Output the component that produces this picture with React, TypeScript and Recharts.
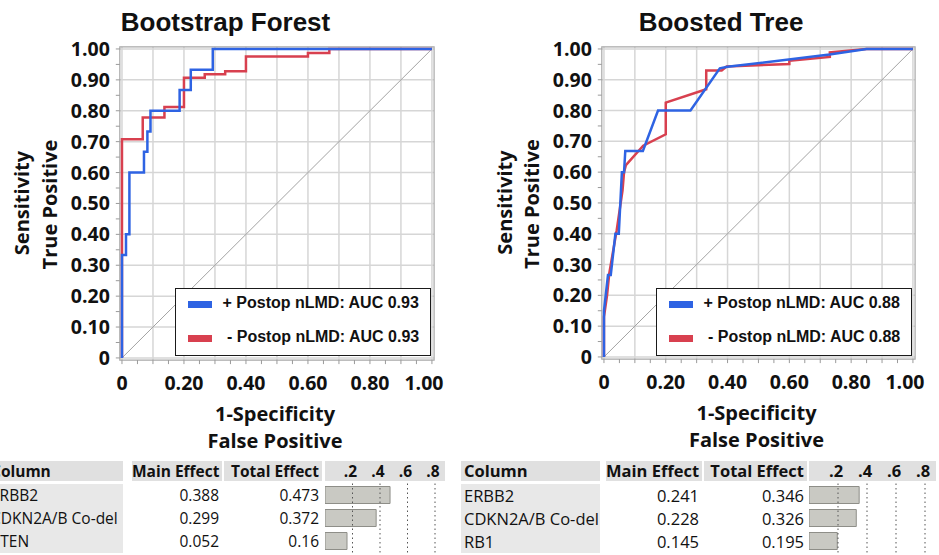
import React from "react";
import {
  Bar,
  BarChart,
  CartesianGrid,
  Legend,
  Line,
  LineChart,
  ReferenceArea,
  ReferenceLine,
  XAxis,
  YAxis,
} from "recharts";

const BLUE = "#2e63e3";
const RED = "#d8404f";
const SANS = "'Open Sans', sans-serif";
const ARIAL = "'Liberation Sans', Arial, sans-serif";

// ROC axes: ticks every 0.05, grid every 0.1, labels on x every 0.2
const rocTicks = [
  0, 0.05, 0.1, 0.15, 0.2, 0.25, 0.3, 0.35, 0.4, 0.45, 0.5, 0.55, 0.6, 0.65,
  0.7, 0.75, 0.8, 0.85, 0.9, 0.95, 1,
];
const rocGrid = [0, 0.1, 0.2, 0.3, 0.4, 0.5, 0.6, 0.7, 0.8, 0.9, 1];
const DOMAIN: [number, number] = [-0.007, 1.007];

// Bootstrap Forest curves
const forestPosFpr = [0, 0, 0.013, 0.013, 0.024, 0.024, 0.071, 0.071, 0.082, 0.082, 0.092, 0.092, 0.186, 0.186, 0.222, 0.222, 0.293, 0.293, 1];
const forestPosTpr = [0, 0.333, 0.333, 0.4, 0.4, 0.6, 0.6, 0.667, 0.667, 0.733, 0.733, 0.8, 0.8, 0.867, 0.867, 0.933, 0.933, 1, 1];
const forestNegFpr = [0, 0, 0.067, 0.067, 0.137, 0.137, 0.2, 0.2, 0.267, 0.267, 0.333, 0.333, 0.4, 0.4, 0.6, 0.6, 0.669, 0.669, 1];
const forestNegTpr = [0, 0.708, 0.708, 0.778, 0.778, 0.812, 0.812, 0.907, 0.907, 0.918, 0.918, 0.928, 0.928, 0.976, 0.976, 0.987, 0.987, 1, 1];

// Boosted Tree curves
const boostedPosFpr = [0, 0, 0.013, 0.022, 0.037, 0.048, 0.058, 0.065, 0.069, 0.126, 0.175, 0.28, 0.375, 0.4, 0.73, 0.85, 1];
const boostedPosTpr = [0, 0.15, 0.266, 0.266, 0.4, 0.4, 0.6, 0.6, 0.669, 0.669, 0.8, 0.8, 0.937, 0.942, 0.982, 1, 1];
const boostedNegFpr = [0, 0, 0.01, 0.017, 0.041, 0.06, 0.065, 0.071, 0.127, 0.2, 0.2, 0.331, 0.331, 0.381, 0.397, 0.6, 0.6, 0.731, 0.731, 0.85, 1];
const boostedNegTpr = [0, 0.13, 0.2, 0.27, 0.41, 0.54, 0.6, 0.623, 0.686, 0.723, 0.826, 0.869, 0.93, 0.93, 0.943, 0.951, 0.962, 0.974, 0.989, 1, 1];

// Effect tables
const forestNames = ["ERBB2", "CDKN2A/B Co-del", "PTEN"];
const forestMain = [0.388, 0.299, 0.052];
const forestTotal = [0.473, 0.372, 0.16];
const boostedNames = ["ERBB2", "CDKN2A/B Co-del", "RB1"];
const boostedMain = [0.241, 0.228, 0.145];
const boostedTotal = [0.346, 0.326, 0.195];
const effectTicks = [0.2, 0.4, 0.6, 0.8];

const toPoints = (xs: number[], ys: number[]) => xs.map((x, i) => ({ x, y: ys[i] }));

const TS = 6;
const TM = 4;

function XTick(props: any) {
  const { x, y, payload, isLast } = props;
  const v = payload.value as number;
  const axisY = y - TS - TM;
  const labeled = Math.round(v * 100) % 20 === 0;
  return (
    <g>
      <line x1={x} x2={x} y1={axisY} y2={axisY + 4} stroke="#9a9a9a" />
      {labeled && (
        <text
          x={v === 1 ? x - 8 : x}
          y={axisY + 30}
          textAnchor="middle"
          fontFamily={SANS}
          fontWeight="bold"
          fontSize={19.5}
          fill="#111"
        >
          {v === 0 ? "0" : v.toFixed(2)}
        </text>
      )}
    </g>
  );
}

function YTick(props: any) {
  const { x, y, payload } = props;
  const v = payload.value as number;
  const axisX = x + TS + TM;
  const labeled = Math.round(v * 100) % 10 === 0;
  return (
    <g>
      <line x1={axisX - 4} x2={axisX} y1={y} y2={y} stroke="#9a9a9a" />
      {labeled && (
        <text
          x={axisX - 10}
          y={y}
          dy="0.36em"
          textAnchor="end"
          fontFamily={SANS}
          fontWeight="bold"
          fontSize={19.5}
          fill="#111"
        >
          {v === 0 ? "0" : v.toFixed(2)}
        </text>
      )}
    </g>
  );
}

function RocLegend({ payload }: any) {
  const items = [...(payload ?? [])].reverse();
  return (
    <div
      style={{
        width: 256,
        height: 68,
        boxSizing: "border-box",
        border: "1.5px solid #1a1a1a",
        background: "#fff",
        position: "relative",
      }}
    >
      {items.map((it: any, i: number) => (
        <div key={i}>
          <div
            style={{
              position: "absolute",
              left: 12,
              top: 11.5 + i * 34,
              width: 24,
              height: 7.5,
              background: it.color,
            }}
          />
          <div
            style={{
              position: "absolute",
              left: 46.5,
              top: 4 + i * 34,
              fontFamily: ARIAL,
              fontWeight: "bold",
              fontSize: 16,
              lineHeight: "20px",
              whiteSpace: "pre",
              color: "#111",
            }}
          >
            {it.value}
          </div>
        </div>
      ))}
    </div>
  );
}

function RocPanel({
  left,
  width,
  yAxisWidth,
  marginRight,
  marginBottom,
  pos,
  neg,
  posName,
  negName,
  legendLeft,
}: {
  left: number;
  width: number;
  yAxisWidth: number;
  marginRight: number;
  marginBottom: number;
  pos: { x: number; y: number }[];
  neg: { x: number; y: number }[];
  posName: string;
  negName: string;
  legendLeft: number;
}) {
  return (
    <div style={{ position: "absolute", left, top: 0 }}>
      <LineChart
        width={width}
        height={460}
        margin={{ top: 46.8, right: marginRight, bottom: marginBottom, left: 0 }}
      >
        <CartesianGrid
          stroke="#d6d6d6"
          strokeWidth={1.5}
          horizontalValues={rocGrid}
          verticalValues={rocGrid}
        />
        <ReferenceArea
          x1={DOMAIN[0]}
          x2={DOMAIN[1]}
          y1={DOMAIN[0]}
          y2={DOMAIN[1]}
          fill="none"
          stroke="#a8a8a8"
          strokeWidth={1.2}
          ifOverflow="visible"
        />
        <XAxis
          type="number"
          dataKey="x"
          domain={DOMAIN}
          ticks={rocTicks}
          interval={0}
          tick={(p: any) => <XTick {...p} />}
          tickLine={false}
          axisLine={false}
          tickSize={TS}
          tickMargin={TM}
          height={30}
        />
        <YAxis
          type="number"
          domain={DOMAIN}
          ticks={rocTicks}
          interval={0}
          tick={(p: any) => <YTick {...p} />}
          tickLine={false}
          axisLine={false}
          tickSize={TS}
          tickMargin={TM}
          width={yAxisWidth}
        />
        <ReferenceLine
          segment={[
            { x: 0, y: 0 },
            { x: 1, y: 1 },
          ]}
          stroke="#a3a3a3"
          strokeWidth={1}
        />
        <Line
          data={neg}
          dataKey="y"
          name={" - Postop nLMD: AUC " + negName}
          type="linear"
          stroke={RED}
          strokeWidth={2.5}
          dot={false}
          isAnimationActive={false}
        />
        <Line
          data={pos}
          dataKey="y"
          name={"+ Postop nLMD: AUC " + posName}
          type="linear"
          stroke={BLUE}
          strokeWidth={2.5}
          dot={false}
          isAnimationActive={false}
        />
        <Legend
          layout="horizontal"
          verticalAlign="middle"
          align="center"
          content={(p: any) => <RocLegend {...p} />}
          wrapperStyle={{ left: legendLeft, top: 288, width: 256, height: 68 }}
        />
      </LineChart>
    </div>
  );
}

function BarHeaderTick(props: any) {
  const { x, y, payload, fontSize } = props;
  return (
    <text
      x={x - 2}
      y={y - 6.5}
      textAnchor="middle"
      fontFamily={SANS}
      fontWeight="bold"
      fontSize={fontSize}
      fill="#111"
    >
      {"." + Math.round(payload.value * 10)}
    </text>
  );
}

type Cell = [number, number];

function EffectTable({
  label,
  main,
  total,
  bars,
  names,
  mainVals,
  totalVals,
  fontSize,
  pxPerUnit,
}: {
  label: Cell;
  main: Cell;
  total: Cell;
  bars: Cell;
  names: string[];
  mainVals: number[];
  totalVals: number[];
  fontSize: number;
  pxPerUnit: number;
}) {
  const headTop = 461;
  const headH = 20;
  const rowTop = 483.5;
  const rowH = 23;
  const head: React.CSSProperties = {
    position: "absolute",
    top: headTop,
    height: headH,
    background: "#e0e0e0",
    fontFamily: SANS,
    fontWeight: "bold",
    fontSize,
    lineHeight: headH + "px",
    color: "#111",
    boxSizing: "border-box",
    whiteSpace: "nowrap",
  };
  const cell: React.CSSProperties = {
    position: "absolute",
    height: rowH,
    fontFamily: SANS,
    fontSize,
    lineHeight: rowH + "px",
    color: "#111",
    boxSizing: "border-box",
    whiteSpace: "nowrap",
  };
  const rows = names.map((name, i) => ({ name, total: totalVals[i] }));
  return (
    <>
      <div style={{ ...head, left: label[0], width: label[1], paddingLeft: 3 }}>Column</div>
      <div style={{ ...head, left: main[0], width: main[1], textAlign: "right", paddingRight: 3 }}>
        Main Effect
      </div>
      <div style={{ ...head, left: total[0], width: total[1], textAlign: "right", paddingRight: 3 }}>
        Total Effect
      </div>
      <div style={{ ...head, left: bars[0], width: bars[1] }} />
      <div
        style={{
          position: "absolute",
          left: label[0],
          top: rowTop,
          width: label[1],
          height: rowH * 3,
          background: "#e8e8e8",
        }}
      />
      {names.map((n, i) => (
        <React.Fragment key={n}>
          <div style={{ ...cell, left: label[0], top: rowTop + i * rowH, width: label[1], paddingLeft: 3 }}>
            {n}
          </div>
          <div
            style={{ ...cell, left: main[0], top: rowTop + i * rowH, width: main[1], textAlign: "right", paddingRight: 3 }}
          >
            {mainVals[i]}
          </div>
          <div
            style={{ ...cell, left: total[0], top: rowTop + i * rowH, width: total[1], textAlign: "right", paddingRight: 3 }}
          >
            {totalVals[i]}
          </div>
        </React.Fragment>
      ))}
      <div style={{ position: "absolute", left: bars[0], top: headTop }}>
        <BarChart
          width={bars[1]}
          height={rowTop - headTop + rowH * 3}
          data={rows}
          layout="vertical"
          margin={{ top: 0, right: 0, bottom: 0, left: 0 }}
          barSize={17}
        >
          <XAxis
            type="number"
            orientation="top"
            domain={[0, bars[1] / pxPerUnit]}
            ticks={effectTicks}
            interval={0}
            height={rowTop - headTop}
            tickSize={0}
            tickMargin={0}
            tickLine={false}
            axisLine={false}
            tick={(p: any) => <BarHeaderTick {...p} fontSize={fontSize} />}
          />
          <YAxis type="category" dataKey="name" hide />
          {effectTicks.map((t) => (
            <ReferenceLine key={t} x={t} stroke="#555" strokeDasharray="1.5 3" strokeWidth={1} />
          ))}
          <Bar
            dataKey="total"
            fill="#c9c9c3"
            stroke="#8e8e88"
            strokeWidth={1}
            isAnimationActive={false}
          />
        </BarChart>
      </div>
    </>
  );
}

export default function App() {
  const title: React.SVGProps<SVGTextElement> = {
    fontFamily: ARIAL,
    fontWeight: "bold",
    fontSize: 26,
    textAnchor: "middle",
    fill: "#111",
  };
  const axisTitle: React.SVGProps<SVGTextElement> = {
    fontFamily: SANS,
    fontWeight: "bold",
    fontSize: 20,
    textAnchor: "middle",
    fill: "#111",
  };
  return (
    <div
      style={{
        position: "absolute",
        left: 0,
        top: 0,
        width: 939,
        height: 555,
        overflow: "hidden",
        background: "#fff",
      }}
    >
      <svg width={939} height={555} style={{ position: "absolute", left: 0, top: 0 }}>
        <text x={225.5} y={30.7} {...title}>Bootstrap Forest</text>
        <text x={721} y={30.7} {...title}>Boosted Tree</text>
        <text transform="translate(29.3,203) rotate(-90)" {...axisTitle}>Sensitivity</text>
        <text transform="translate(56.7,204.5) rotate(-90)" {...axisTitle}>True Positive</text>
        <text transform="translate(512,202.5) rotate(-90)" {...axisTitle}>Sensitivity</text>
        <text transform="translate(539,204) rotate(-90)" {...axisTitle}>True Positive</text>
        <text x={275} y={420.5} {...axisTitle}>1-Specificity</text>
        <text x={275} y={447.5} {...axisTitle}>False Positive</text>
        <text x={756.5} y={420} {...axisTitle}>1-Specificity</text>
        <text x={756.5} y={446.7} {...axisTitle}>False Positive</text>
      </svg>
      <RocPanel
        left={0}
        width={460}
        yAxisWidth={119.8}
        marginRight={460 - 434.1}
        marginBottom={460 - 360.1 - 30}
        pos={toPoints(forestPosFpr, forestPosTpr)}
        neg={toPoints(forestNegFpr, forestNegTpr)}
        posName="0.93"
        negName="0.93"
        legendLeft={175}
      />
      <RocPanel
        left={470}
        width={469}
        yAxisWidth={131.8}
        marginRight={469 - 445.1}
        marginBottom={460 - 359.1 - 30}
        pos={toPoints(boostedPosFpr, boostedPosTpr)}
        neg={toPoints(boostedNegFpr, boostedNegTpr)}
        posName="0.88"
        negName="0.88"
        legendLeft={186}
      />
      <EffectTable
        label={[-12, 135]}
        main={[132, 90]}
        total={[224, 98]}
        bars={[324.5, 120.5]}
        names={forestNames}
        mainVals={forestMain}
        totalVals={forestTotal}
        fontSize={15.5}
        pxPerUnit={137.5}
      />
      <EffectTable
        label={[461, 139]}
        main={[606, 96]}
        total={[704, 103]}
        bars={[808.5, 127]}
        names={boostedNames}
        mainVals={boostedMain}
        totalVals={boostedTotal}
        fontSize={16.5}
        pxPerUnit={145}
      />
    </div>
  );
}
